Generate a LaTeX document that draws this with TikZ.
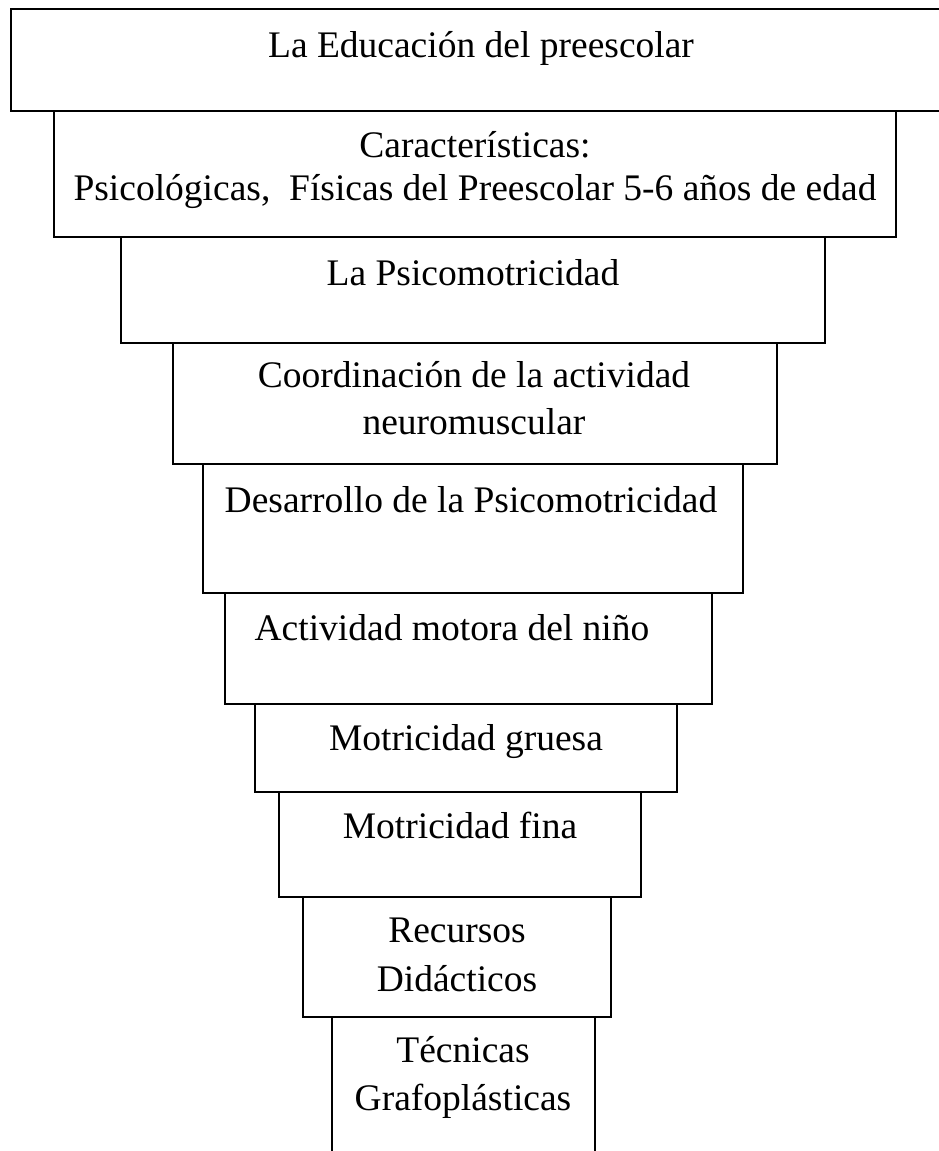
\documentclass[tikz,border=0pt]{standalone}
\usepackage{fontspec}
\setmainfont{Liberation Serif}
\begin{document}
\begin{tikzpicture}[x=1pt,y=-1pt,font=\fontsize{37.5}{43}\selectfont,
  lbl/.style={anchor=base,inner sep=0pt,align=center}]

\useasboundingbox (0,0) rectangle (939,1151);
\clip (0,0) rectangle (939,1151);

% stacked boxes, top to bottom
\foreach \l/\t/\r/\b in {11/9/960/111, 54/111/896/237, 121/237/825/343,
  173/343/777/464, 203/464/743/593, 225/593/712/704, 255/704/677/792,
  279/792/641/897, 303/897/611/1017, 332/1017/595/1170}{
\draw[line width=2pt] (\l,\t) rectangle (\r,\b);}

% texts (base = baseline of the last line)
\node[lbl] (edu) at (481,57) {La Educación del preescolar};
\node[lbl] (carac) at (475,200) {Características:\\Psicológicas,\ \ Físicas del Preescolar 5-6 años de edad};
\node[lbl] (psico) at (473,285) {La Psicomotricidad};
\node[lbl] (coord) at (474,434) {Coordinación de la actividad\\[4pt]neuromuscular};
\node[lbl] (desarr) at (471,512) {Desarrollo de la Psicomotricidad};
\node[lbl] (activ) at (452,640) {Actividad motora del niño};
\node[lbl] (gruesa) at (466,750) {Motricidad gruesa};
\node[lbl] (fina) at (460,838) {Motricidad fina};
\node[lbl] (recur) at (457,991) {Recursos\\[6pt]Didácticos};
\node[lbl] (tecn) at (463,1110) {Técnicas\\[5pt]Grafoplásticas};

\end{tikzpicture}
\end{document}
